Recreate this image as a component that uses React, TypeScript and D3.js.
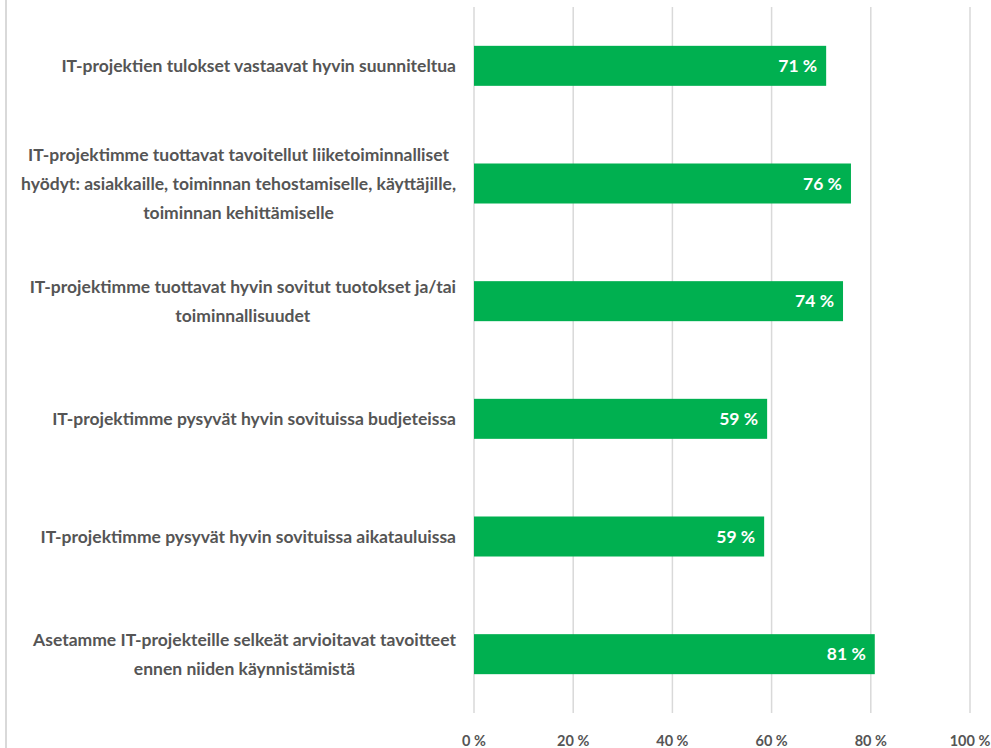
import React, { useLayoutEffect, useRef, useState } from "react";
import * as d3 from "d3";

const categories: string[][] = [
  ["IT-projektien tulokset vastaavat hyvin suunniteltua"],
  [
    "IT-projektimme tuottavat tavoitellut liiketoiminnalliset",
    "hyödyt: asiakkaille, toiminnan tehostamiselle, käyttäjille,",
    "toiminnan kehittämiselle",
  ],
  ["IT-projektimme tuottavat hyvin sovitut tuotokset ja/tai", "toiminnallisuudet"],
  ["IT-projektimme pysyvät hyvin sovituissa budjeteissa"],
  ["IT-projektimme pysyvät hyvin sovituissa aikatauluissa"],
  ["Asetamme IT-projekteille selkeät arvioitavat tavoitteet", "ennen niiden käynnistämistä"],
];
const values: number[] = [0.71, 0.76, 0.744, 0.591, 0.585, 0.808];
const valueLabels: string[] = ["71 %", "76 %", "74 %", "59 %", "59 %", "81 %"];
const tickValues: number[] = [0, 0.2, 0.4, 0.6, 0.8, 1.0];
const tickLabels: string[] = ["0 %", "20 %", "40 %", "60 %", "80 %", "100 %"];

const W = 991;
const H = 748;
const FONT = "Lato, 'Open Sans', sans-serif";
const TEXT = "#555555";

export default function App() {
  const x = d3.scaleLinear().domain([0, 1]).range([474, 970]);
  const ids = categories.map((_, i) => String(i));
  const y = d3.scaleBand<string>().domain(ids).range([7, 713]).paddingInner(0.66).paddingOuter(0.33);
  const lineH = 29;
  const blockRight = 456;
  const svgRef = useRef<SVGSVGElement>(null);
  const [blockW, setBlockW] = useState<number[]>(categories.map(() => 0));

  useLayoutEffect(() => {
    const svg = svgRef.current;
    if (!svg) return;
    const widths = categories.map((_, i) => {
      const nodes = svg.querySelectorAll<SVGTextElement>(`.cat-${i}`);
      let m = 0;
      nodes.forEach((n) => {
        m = Math.max(m, n.getComputedTextLength());
      });
      return m;
    });
    setBlockW(widths);
  }, []);

  return (
    <svg
      ref={svgRef}
      width={W}
      height={H}
      style={{ position: "absolute", left: 0, top: 0, background: "#fff" }}
      fontFamily={FONT}
    >
      <rect x={0} y={0} width={W} height={H} fill="#fff" />
      <line x1={6} x2={6} y1={0} y2={H} stroke="#d9d9d9" strokeWidth={2} />
      {tickValues.map((t, i) => (
        <g key={i}>
          <line x1={x(t)} x2={x(t)} y1={7} y2={713} stroke="#d9d9d9" strokeWidth={1.5} />
          <text x={x(t)} y={746} textAnchor="middle" fontSize={14.5} fontWeight={700} fill={TEXT}>
            {tickLabels[i]}
          </text>
        </g>
      ))}
      {values.map((v, i) => {
        const yy = y(ids[i])!;
        const bw = y.bandwidth();
        return (
          <g key={i}>
            <rect x={x(0)} y={yy} width={x(v) - x(0)} height={bw} fill="#00B050" />
            <text
              x={x(v) - 9}
              y={yy + bw / 2}
              dy="0.36em"
              textAnchor="end"
              fontSize={17.5}
              fontWeight={700}
              fill="#fff"
            >
              {valueLabels[i]}
            </text>
          </g>
        );
      })}
      {categories.map((lines, i) => {
        const cy = y(ids[i])! + y.bandwidth() / 2;
        const n = lines.length;
        const cx = blockRight - blockW[i] / 2;
        return (
          <g key={i}>
            {lines.map((ln, j) => (
              <text
                key={j}
                className={`cat cat-${i}`}
                x={blockW[i] ? cx : blockRight}
                y={cy + (j - (n - 1) / 2) * lineH}
                dy="0.36em"
                textAnchor={blockW[i] ? "middle" : "end"}
                fontSize={17.5}
                fontWeight={700}
                fill={TEXT}
              >
                {ln}
              </text>
            ))}
          </g>
        );
      })}
    </svg>
  );
}
